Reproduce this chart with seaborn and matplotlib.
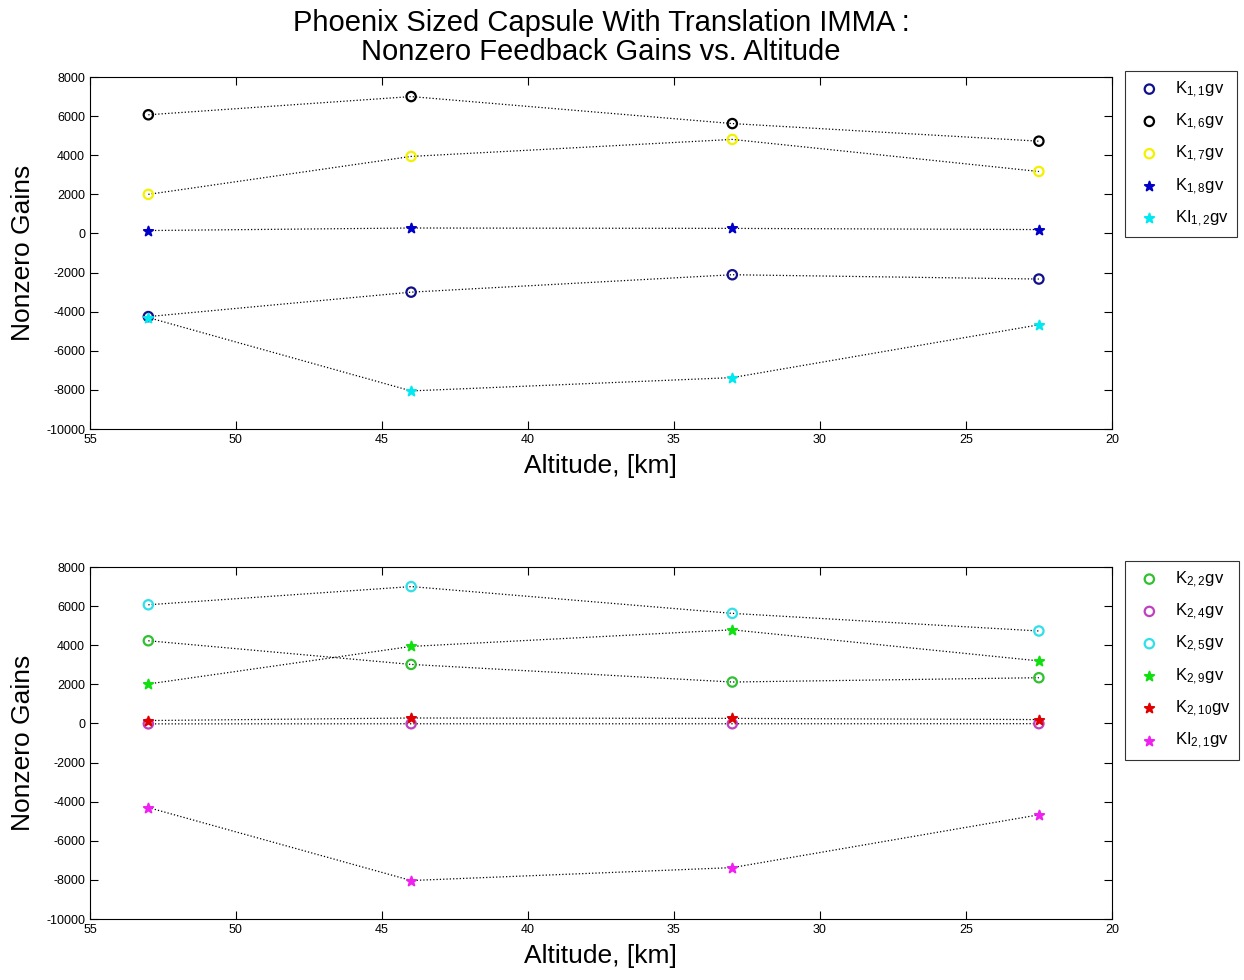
import numpy as np
import pandas as pd
import matplotlib
matplotlib.use('Agg')
import matplotlib.pyplot as plt
import seaborn as sns

# altitude points (km)
altitude = [53, 44, 33, 22.5]

# top panel gains
k11 = [-4250, -3000, -2110, -2330]
k16 = [6070, 7000, 5620, 4720]
k17 = [2000, 3940, 4810, 3170]
k18 = [150, 280, 260, 200]
ki12 = [-4300, -8050, -7370, -4670]

# bottom panel gains
k22 = [4230, 3020, 2120, 2340]
k24 = [-20, -15, -15, -10]
k25 = [6070, 7000, 5630, 4730]
k29 = [2020, 3940, 4790, 3200]
k210 = [150, 280, 260, 200]
ki21 = [-4300, -8030, -7370, -4670]

top_series = [
    (r'K$_{\mathrm{1,1}}$gv', k11, '#10108a', 'o'),
    (r'K$_{\mathrm{1,6}}$gv', k16, 'black', 'o'),
    (r'K$_{\mathrm{1,7}}$gv', k17, '#f2f200', 'o'),
    (r'K$_{\mathrm{1,8}}$gv', k18, '#0000c8', '*'),
    (r'KI$_{\mathrm{1,2}}$gv', ki12, '#00e8f0', '*'),
]
bottom_series = [
    (r'K$_{\mathrm{2,2}}$gv', k22, '#30c030', 'o'),
    (r'K$_{\mathrm{2,4}}$gv', k24, '#c040c0', 'o'),
    (r'K$_{\mathrm{2,5}}$gv', k25, '#30e0e8', 'o'),
    (r'K$_{\mathrm{2,9}}$gv', k29, '#10e010', '*'),
    (r'K$_{\mathrm{2,10}}$gv', k210, '#e00000', '*'),
    (r'KI$_{\mathrm{2,1}}$gv', ki21, '#f020f0', '*'),
]

sns.set_style('ticks')
plt.rcParams['font.family'] = ['Liberation Sans', 'DejaVu Sans']
plt.rcParams['mathtext.fontset'] = 'custom'
plt.rcParams['mathtext.rm'] = 'Liberation Sans'
plt.rcParams['mathtext.it'] = 'Liberation Sans'
plt.rcParams['axes.unicode_minus'] = False
plt.rcParams['text.color'] = 'black'
plt.rcParams['axes.labelcolor'] = 'black'
plt.rcParams['xtick.color'] = 'black'
plt.rcParams['ytick.color'] = 'black'

fig = plt.figure(figsize=(12.44, 9.8), dpi=100)
ax1 = fig.add_axes([0.0723, 0.5622, 0.8215, 0.3592])
ax2 = fig.add_axes([0.0723, 0.0622, 0.8215, 0.3592])


def draw(ax, series):
    for label, vals, col, mk in series:
        sns.lineplot(x=altitude, y=vals, ax=ax, color='black', linestyle=':',
                     linewidth=0.9, sort=False, legend=False)
    for label, vals, col, mk in series:
        if mk == 'o':
            sns.scatterplot(x=altitude, y=vals, ax=ax, marker='o', s=45,
                            color=col, facecolors='none', edgecolor=col,
                            linewidth=1.6, label=label, zorder=3)
        else:
            sns.scatterplot(x=altitude, y=vals, ax=ax, marker='*', s=50,
                            color=col, edgecolor=col, linewidth=1.4,
                            label=label, zorder=3)
    ax.set_xlim(55, 20)
    ax.set_ylim(-10000, 8000)
    ax.set_xticks(np.arange(55, 19, -5))
    ax.set_yticks(np.arange(-10000, 8001, 2000))
    ax.tick_params(direction='in', top=True, right=True, labelsize=9,
                   length=6, width=0.8)
    for sp in ax.spines.values():
        sp.set_visible(True)
        sp.set_linewidth(0.8)
        sp.set_color('black')
    ax.set_xlabel('Altitude, [km]', fontsize=19, labelpad=6)
    ax.set_ylabel('Nonzero Gains', fontsize=19, labelpad=8)
    leg = ax.legend(loc='upper left', bbox_to_anchor=(1.013, 1.017),
                    fontsize=12, frameon=True, fancybox=False,
                    edgecolor='black', handletextpad=0.6, handlelength=1.9,
                    borderaxespad=0, labelspacing=0.72, borderpad=0.5)
    leg.get_frame().set_linewidth(0.8)


draw(ax1, top_series)
draw(ax2, bottom_series)

ax1.set_title('Phoenix Sized Capsule With Translation IMMA :\nNonzero Feedback Gains vs. Altitude',
              fontsize=21, pad=12, linespacing=1.05)

fig.savefig('out.png', dpi=100)
